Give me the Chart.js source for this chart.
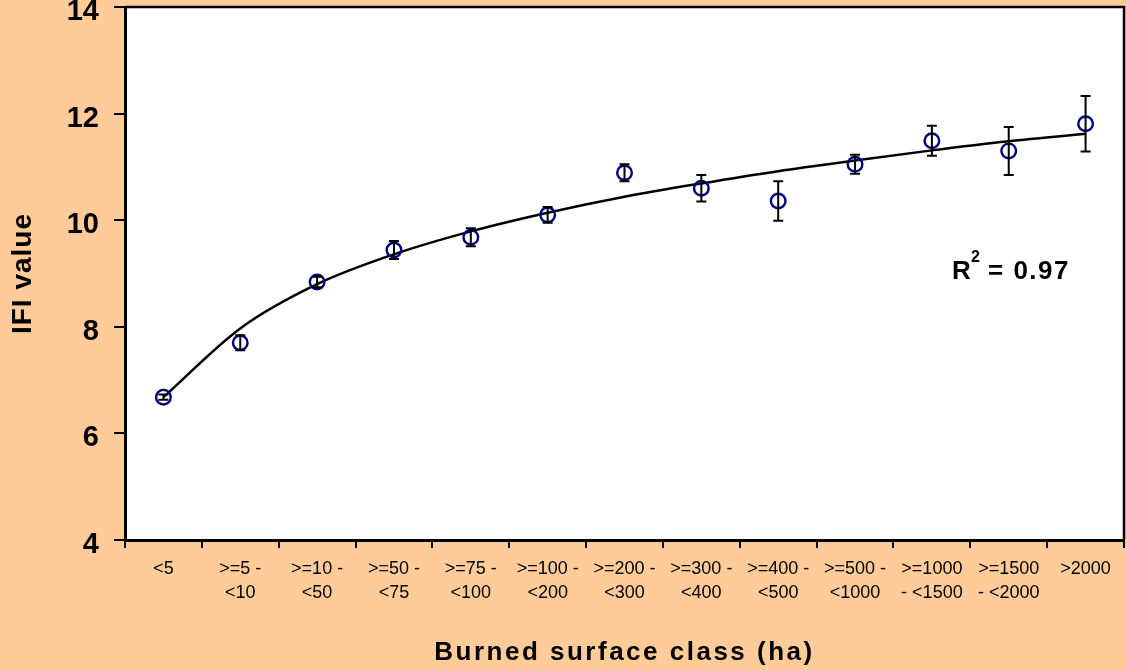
<!DOCTYPE html>
<html>
<head>
<meta charset="utf-8">
<title>IFI value by burned surface class</title>
<script src="https://cdn.jsdelivr.net/npm/chart.js@4.4.1/dist/chart.umd.min.js"></script>
<style>
    html, body { margin: 0; padding: 0; background: #FFCC99; overflow: hidden; }
    #wrap { width: 1126px; height: 670px; position: relative; }
</style>
</head>
<body>
<div id="wrap"><canvas id="ifiChart"></canvas></div>
<script>
const surfaceClasses = [
    ['<5'], ['>=5 -', '<10'], ['>=10 -', '<50'], ['>=50 -', '<75'], ['>=75 -', '<100'],
    ['>=100 -', '<200'], ['>=200 -', '<300'], ['>=300 -', '<400'], ['>=400 -', '<500'],
    ['>=500 -', '<1000'], ['>=1000', '- <1500'], ['>=1500', '- <2000'], ['>2000']
];
const ifiValues = [6.68, 7.70, 8.84, 9.44, 9.68, 10.10, 10.89, 10.60, 10.36, 11.05, 11.49, 11.30, 11.81];
const ifiErrors = [0.05, 0.14, 0.10, 0.17, 0.17, 0.15, 0.16, 0.25, 0.37, 0.18, 0.28, 0.45, 0.52];
const trendValues = [6.68, 7.97, 8.80, 9.36, 9.79, 10.14, 10.44, 10.69, 10.92, 11.12, 11.31, 11.48, 11.62];
const yTicks = [4, 6, 8, 10, 12, 14];
const rSquared = '0.97';

const FONT = "'Liberation Sans', Arial, sans-serif";

// peach page, white plot area with black frame
const backgroundPlugin = {
    id: 'background',
    beforeDraw(chart) {
        const { ctx, chartArea: a } = chart;
        ctx.save();
        ctx.fillStyle = '#FFCC99';
        ctx.fillRect(0, 0, chart.width, chart.height);
        ctx.fillStyle = '#FFFFFF';
        ctx.fillRect(a.left, a.top, a.right - a.left, a.bottom - a.top);
        ctx.restore();
    },
    afterDraw(chart) {
        const { ctx, chartArea: a } = chart;
        ctx.save();
        ctx.strokeStyle = '#000';
        ctx.lineWidth = 2.5;
        ctx.beginPath();
        ctx.moveTo(a.left, a.top);
        ctx.lineTo(a.right, a.top);
        ctx.lineTo(a.right, a.bottom);
        ctx.stroke();
        ctx.restore();
    }
};

// vertical error bars with caps, through the chart scales
const errorBarPlugin = {
    id: 'errorBars',
    afterDatasetsDraw(chart) {
        const { ctx, scales: { x, y } } = chart;
        ctx.save();
        ctx.strokeStyle = '#000';
        ctx.lineWidth = 2;
        ifiValues.forEach((v, i) => {
            const px = x.getPixelForValue(i);
            const top = y.getPixelForValue(v + ifiErrors[i]);
            const bottom = y.getPixelForValue(v - ifiErrors[i]);
            ctx.beginPath();
            ctx.moveTo(px, top);
            ctx.lineTo(px, bottom);
            ctx.moveTo(px - 5, top);
            ctx.lineTo(px + 5, top);
            ctx.moveTo(px - 5, bottom);
            ctx.lineTo(px + 5, bottom);
            ctx.stroke();
        });
        ctx.restore();
    }
};

// axis titles and R² note (drawn by hand for the letter spacing)
const textPlugin = {
    id: 'texts',
    afterDraw(chart) {
        const { ctx, chartArea: a } = chart;
        ctx.save();
        ctx.fillStyle = '#000';
        ctx.textAlign = 'center';
        ctx.textBaseline = 'middle';
        if ('letterSpacing' in ctx) ctx.letterSpacing = '2.5px';
        ctx.font = `bold 26px ${FONT}`;
        ctx.fillText('Burned surface class (ha)', (a.left + a.right) / 2, 653);

        if ('letterSpacing' in ctx) ctx.letterSpacing = '1px';
        ctx.translate(23, (a.top + a.bottom) / 2);
        ctx.rotate(-Math.PI / 2);
        ctx.font = `bold 28px ${FONT}`;
        ctx.fillText('IFI value', 0, 0);
        ctx.restore();

        ctx.save();
        ctx.fillStyle = '#000';
        ctx.textAlign = 'left';
        ctx.textBaseline = 'alphabetic';
        ctx.font = `bold 26px ${FONT}`;
        ctx.fillText('R', a.left + 827, 279);
        ctx.font = `bold 16px ${FONT}`;
        ctx.fillText('2', a.left + 846, 262);
        if ('letterSpacing' in ctx) ctx.letterSpacing = '1.5px';
        ctx.font = `bold 26px ${FONT}`;
        ctx.fillText('= ' + rSquared, a.left + 863, 279);
        ctx.restore();
    }
};

const ctx = document.getElementById('ifiChart').getContext('2d');

new Chart(ctx, {
    type: 'line',
    data: {
        labels: surfaceClasses,
        datasets: [
            {
                label: 'IFI value',
                data: ifiValues,
                showLine: false,
                pointStyle: 'circle',
                pointRadius: 7.3,
                pointBorderWidth: 2.4,
                pointBorderColor: '#000080',
                pointBackgroundColor: 'rgba(0,0,0,0)',
                order: 0
            },
            {
                label: 'Trend',
                data: trendValues,
                borderColor: '#000',
                borderWidth: 2.5,
                pointRadius: 0,
                cubicInterpolationMode: 'monotone',
                fill: false,
                order: 1
            }
        ]
    },
    options: {
        responsive: true,
        maintainAspectRatio: false,
        animation: false,
        layout: {
            autoPadding: false,
            padding: { top: 7, right: 2, left: 0, bottom: 0 }
        },
        plugins: {
            legend: { display: false },
            tooltip: { enabled: false }
        },
        scales: {
            x: {
                type: 'category',
                offset: true,
                grid: {
                    offset: true,
                    drawOnChartArea: false,
                    drawTicks: true,
                    tickLength: 8,
                    color: '#000',
                    lineWidth: 2
                },
                border: { color: '#000', width: 3 },
                ticks: {
                    autoSkip: false,
                    maxRotation: 0,
                    minRotation: 0,
                    padding: 9,
                    color: '#000',
                    font: { family: FONT, size: 18, lineHeight: 1.33 }
                },
                afterFit(scale) {
                    scale.height = 130;
                    scale.paddingLeft = 0;
                    scale.paddingRight = 0;
                }
            },
            y: {
                min: 4,
                max: 14,
                afterBuildTicks(scale) {
                    scale.ticks = yTicks.map(v => ({ value: v }));
                },
                grid: {
                    drawOnChartArea: false,
                    drawTicks: true,
                    tickLength: 11,
                    color: '#000',
                    lineWidth: 2
                },
                border: { color: '#000', width: 3 },
                ticks: {
                    padding: 15,
                    labelOffset: 5,
                    color: '#000',
                    font: { family: FONT, size: 29, weight: 'bold' }
                },
                afterFit(scale) {
                    scale.width = 125;
                    scale.paddingTop = 0;
                    scale.paddingBottom = 0;
                }
            }
        }
    },
    plugins: [backgroundPlugin, errorBarPlugin, textPlugin]
});
</script>
</body>
</html>
